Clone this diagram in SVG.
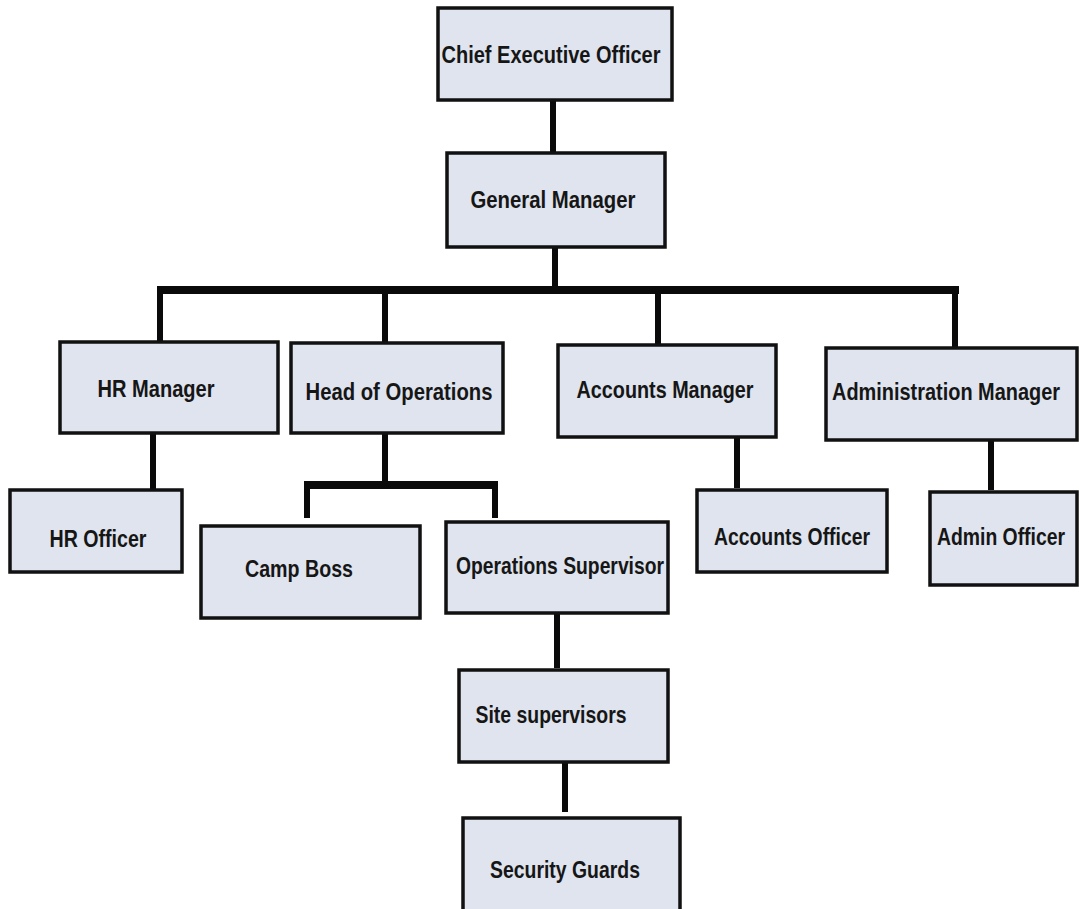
<svg xmlns="http://www.w3.org/2000/svg" width="1079" height="909" viewBox="0 0 1079 909">
<style>
.box{fill:#dfe4ee;stroke:#111;stroke-width:3.5}
.lbl{font-family:"Liberation Sans Narrow","Liberation Sans",Arial,sans-serif;font-weight:bold;font-size:24px;fill:#161616;text-anchor:middle}
.con{stroke:#0a0a0a;stroke-width:6;fill:none;stroke-linecap:butt}
.bar{stroke:#0a0a0a;stroke-width:8;fill:none}
</style>
<rect width="1079" height="909" fill="#ffffff"/>
<g id="connectors">
<line class="con" x1="553" y1="100" x2="553" y2="153"/>
<line class="con" x1="555" y1="247" x2="555" y2="290"/>
<line class="bar" x1="157" y1="290" x2="959" y2="290"/>
<line class="con" x1="160" y1="290" x2="160" y2="342"/>
<line class="con" x1="385" y1="290" x2="385" y2="343"/>
<line class="con" x1="658" y1="290" x2="658" y2="345"/>
<line class="con" x1="955" y1="290" x2="955" y2="348"/>
<line class="con" x1="153" y1="433" x2="153" y2="490"/>
<line class="con" x1="385" y1="433" x2="385" y2="485"/>
<line class="bar" x1="304" y1="485" x2="498" y2="485"/>
<line class="con" x1="307" y1="485" x2="307" y2="518"/>
<line class="con" x1="495" y1="485" x2="495" y2="518"/>
<line class="con" x1="737" y1="437" x2="737" y2="488"/>
<line class="con" x1="991" y1="440" x2="991" y2="490"/>
<line class="con" x1="557" y1="613" x2="557" y2="668"/>
<line class="con" x1="565" y1="762" x2="565" y2="812"/>
</g>
<g id="ceo"><rect class="box" x="438" y="8" width="234" height="92"/><text class="lbl" x="551" y="63" textLength="219" lengthAdjust="spacingAndGlyphs">Chief Executive Officer</text></g>
<g id="gm"><rect class="box" x="447" y="153" width="218" height="94"/><text class="lbl" x="553" y="208" textLength="165" lengthAdjust="spacingAndGlyphs">General Manager</text></g>
<g id="hrm"><rect class="box" x="60" y="342" width="218" height="91"/><text class="lbl" x="156" y="397" textLength="117" lengthAdjust="spacingAndGlyphs">HR Manager</text></g>
<g id="hoo"><rect class="box" x="291" y="343" width="212" height="90"/><text class="lbl" x="399" y="400" textLength="187" lengthAdjust="spacingAndGlyphs">Head of Operations</text></g>
<g id="acm"><rect class="box" x="558" y="345" width="218" height="92"/><text class="lbl" x="665" y="398" textLength="177" lengthAdjust="spacingAndGlyphs">Accounts Manager</text></g>
<g id="adm"><rect class="box" x="826" y="348" width="251" height="92"/><text class="lbl" transform="translate(946 400) scale(0.8 1)" x="0" y="0" textLength="285" lengthAdjust="spacingAndGlyphs">Administration Manager</text></g>
<g id="hro"><rect class="box" x="10" y="490" width="172" height="82"/><text class="lbl" x="98" y="547" textLength="97" lengthAdjust="spacingAndGlyphs">HR Officer</text></g>
<g id="camp"><rect class="box" x="201" y="526" width="219" height="92"/><text class="lbl" x="299" y="577" textLength="108" lengthAdjust="spacingAndGlyphs">Camp Boss</text></g>
<g id="opsup"><rect class="box" x="446" y="522" width="222" height="91"/><text class="lbl" x="560" y="574" textLength="208" lengthAdjust="spacingAndGlyphs">Operations Supervisor</text></g>
<g id="aco"><rect class="box" x="697" y="490" width="190" height="82"/><text class="lbl" x="792" y="545" textLength="156" lengthAdjust="spacingAndGlyphs">Accounts Officer</text></g>
<g id="ado"><rect class="box" x="930" y="492" width="147" height="93"/><text class="lbl" transform="translate(1001 545) scale(0.8 1)" x="0" y="0" textLength="160" lengthAdjust="spacingAndGlyphs">Admin Officer</text></g>
<g id="site"><rect class="box" x="459" y="670" width="209" height="92"/><text class="lbl" x="551" y="723" textLength="151" lengthAdjust="spacingAndGlyphs">Site supervisors</text></g>
<g id="guards"><rect class="box" x="463" y="818" width="217" height="95"/><text class="lbl" x="565" y="878" textLength="150" lengthAdjust="spacingAndGlyphs">Security Guards</text></g>
</svg>
